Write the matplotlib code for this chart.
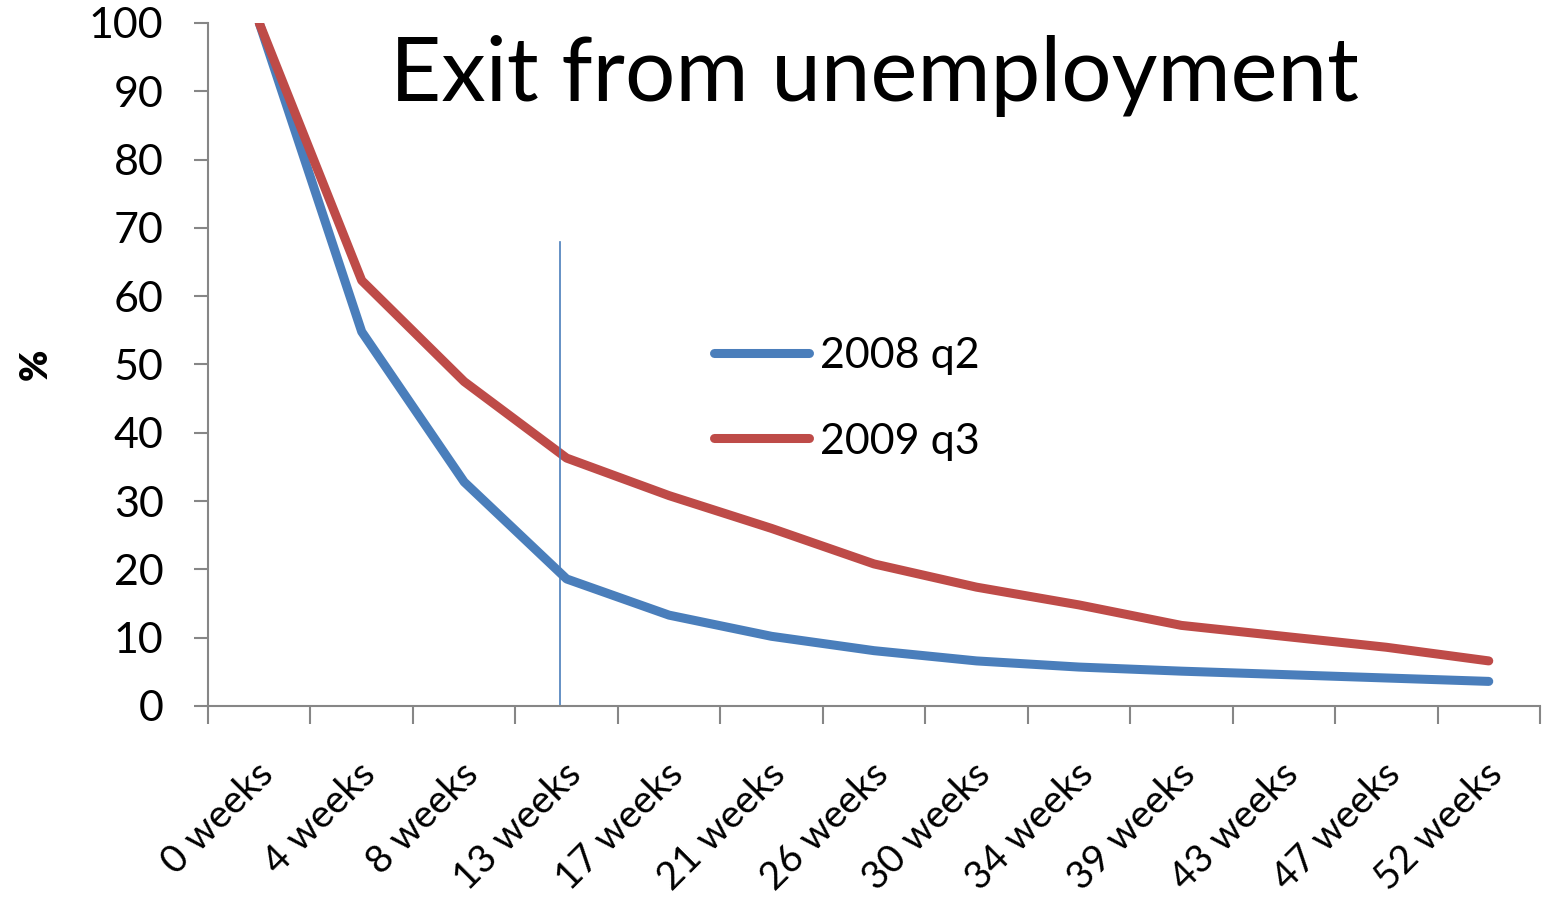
import numpy as np
import matplotlib.pyplot as plt
from matplotlib.transforms import ScaledTranslation

plt.rcParams['font.family'] = ['Lato', 'DejaVu Sans']

weeks = ['0 weeks', '4 weeks', '8 weeks', '13 weeks', '17 weeks', '21 weeks', '26 weeks',
         '30 weeks', '34 weeks', '39 weeks', '43 weeks', '47 weeks', '52 weeks']

q2_2008 = [100, 54.8, 32.8, 18.6, 13.3, 10.2, 8.1, 6.6, 5.7, 5.1, 4.6, 4.1, 3.6]
q3_2009 = [100, 62.3, 47.5, 36.3, 30.8, 26.0, 20.8, 17.4, 14.8, 11.8, 10.2, 8.6, 6.6]

# marker line near 13 weeks
mark_x = 2.94
mark_top = 68

fig = plt.figure(figsize=(15.42, 9.05), dpi=100)
ax = fig.add_axes([0.1349, 0.2199, 0.8638, 0.7547])

x = np.arange(len(weeks))
ax.plot(x, q2_2008, color='#4A7EBB', lw=6.5, solid_capstyle='round', solid_joinstyle='round', label='2008 q2')
ax.plot(x, q3_2009, color='#BE4B48', lw=6.5, solid_capstyle='round', solid_joinstyle='round', label='2009 q3')
ax.plot([mark_x, mark_x], [0, mark_top], color='#4A7EBB', lw=1.2)

ax.set_xlim(-0.5, len(weeks) - 0.5)
ax.set_ylim(0, 100)
ax.set_yticks(range(0, 101, 10))
ax.set_xticks(np.arange(len(weeks) + 1) - 0.5, minor=True)
ax.set_xticks(x)
ax.set_xticklabels(weeks, rotation=45, ha='right', va='top', rotation_mode='anchor', fontsize=28)
ax.tick_params(axis='x', which='major', length=0, pad=36)
ax.tick_params(axis='x', which='minor', length=13, width=1.5, color='#868686', direction='out')
ax.tick_params(axis='y', length=10, width=1.5, color='#868686', labelsize=31, pad=22)
off = ScaledTranslation(-3 / 72, 0, fig.dpi_scale_trans)
for lab in ax.get_xticklabels():
    lab.set_transform(lab.get_transform() + off)

for s in ['top', 'right']:
    ax.spines[s].set_visible(False)
for s in ['left', 'bottom']:
    ax.spines[s].set_color('#868686')
    ax.spines[s].set_linewidth(1.5)

ax.set_ylabel('%', fontsize=27, fontweight='heavy', labelpad=26)
ax.text(0.50, 0.922, 'Exit from unemployment', transform=ax.transAxes, ha='center', va='center', fontsize=64)

ax.legend(loc='upper left', bbox_to_anchor=(0.38, 0.54), frameon=False, fontsize=31,
          handlelength=2.2, handletextpad=0.25, labelspacing=1.1, borderpad=0, borderaxespad=0)

fig.savefig('out.png', dpi=100)
